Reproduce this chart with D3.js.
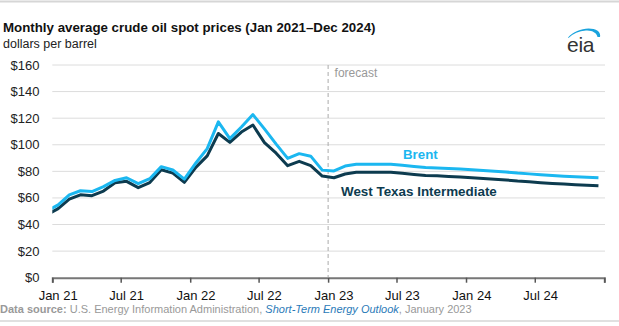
<!DOCTYPE html>
<html>
<head>
<meta charset="utf-8">
<script src="https://cdn.jsdelivr.net/npm/d3@7"></script>
<style>
  html, body { margin: 0; padding: 0; background: #fff; }
  svg { display: block; font-family: "Liberation Sans", Arial, sans-serif; }
</style>
</head>
<body>
<svg id="chart" width="619" height="326"></svg>
<script>
// Months plotted (Dec 2020 point is only used to enter the plot area from the left edge)
const months = [
  "2020-12",
  "2021-01","2021-02","2021-03","2021-04","2021-05","2021-06","2021-07","2021-08","2021-09","2021-10","2021-11","2021-12",
  "2022-01","2022-02","2022-03","2022-04","2022-05","2022-06","2022-07","2022-08","2022-09","2022-10","2022-11","2022-12",
  "2023-01","2023-02","2023-03","2023-04","2023-05","2023-06","2023-07","2023-08","2023-09","2023-10","2023-11","2023-12",
  "2024-01","2024-02","2024-03","2024-04","2024-05","2024-06","2024-07","2024-08","2024-09","2024-10","2024-11","2024-12"
];

// Brent spot price, dollars per barrel
const brent = [
  49.99,
  54.77, 62.28, 65.41, 64.81, 68.53, 73.16, 75.17, 70.75, 74.49, 83.54, 81.05, 74.17,
  86.51, 97.13, 117.25, 104.58, 113.34, 122.71, 111.93, 100.45, 89.76, 93.33, 91.42, 80.92,
  80.3, 84.0, 85.3, 85.3, 85.3, 85.3, 84.5, 83.7, 82.9, 82.6, 82.2, 81.7,
  81.2, 80.7, 80.1, 79.5, 78.7, 78.1, 77.5, 76.9, 76.4, 76.0, 75.6, 75.2
];

// West Texas Intermediate spot price, dollars per barrel
const wti = [
  47.02,
  52.00, 59.04, 62.33, 61.72, 65.17, 71.38, 72.49, 67.73, 71.54, 81.22, 78.65, 71.71,
  83.22, 91.64, 108.50, 101.78, 109.55, 114.84, 101.62, 93.67, 84.26, 87.55, 84.37, 76.44,
  75.2, 78.0, 79.3, 79.3, 79.3, 79.3, 78.5, 77.7, 76.9, 76.6, 76.2, 75.7,
  75.2, 74.7, 74.1, 73.5, 72.7, 72.1, 71.5, 70.9, 70.4, 70.0, 69.6, 69.2
];

const yTicks = [0, 20, 40, 60, 80, 100, 120, 140, 160];
const xTickDates = ["2021-01","2021-07","2022-01","2022-07","2023-01","2023-07","2024-01","2024-07","2025-01"];
const xTickLabels = ["Jan 21","Jul 21","Jan 22","Jul 22","Jan 23","Jul 23","Jan 24","Jul 24",""];
const forecastStart = "2023-01";

const svg = d3.select("#chart");
const W = 619, H = 326;
const plot = { left: 52.3, right: 604.3, top: 65, bottom: 277.7 };

const parseMonth = d3.utcParse("%Y-%m");
const midMonth = s => { const d = parseMonth(s); return new Date(+d + (d3.utcMonth.offset(d, 1) - d) / 2); };

const x = d3.scaleUtc()
  .domain([parseMonth("2021-01"), parseMonth("2025-01")])
  .range([plot.left, plot.right]);
const y = d3.scaleLinear().domain([0, 160]).range([plot.bottom, plot.top]);

// frame rules
svg.append("line").attr("x1", 0).attr("x2", W).attr("y1", 1.5).attr("y2", 1.5)
  .attr("stroke", "#d6d6d6").attr("stroke-width", 2);
svg.append("line").attr("x1", 0).attr("x2", W).attr("y1", 321).attr("y2", 321)
  .attr("stroke", "#d6d6d6").attr("stroke-width", 1.5);

// title block
svg.append("text").attr("x", 3).attr("y", 32)
  .attr("font-size", 13.3).attr("font-weight", "bold").attr("fill", "#111")
  .text("Monthly average crude oil spot prices (Jan 2021\u2013Dec 2024)");
svg.append("text").attr("x", 3).attr("y", 47.5)
  .attr("font-size", 12.5).attr("fill", "#222")
  .text("dollars per barrel");

// eia mark
const logo = svg.append("g");
logo.append("path")
  .attr("d", "M568,37.5 C575,30 589,25.5 598,31 C600,33 600.5,35 600,37 L597.5,37 C597,33 592,30 586,30.5 C579,31 573,33.5 568.5,38 Z")
  .attr("fill", "#1aa3dd");
logo.append("text").attr("x", 567).attr("y", 52)
  .attr("font-size", 21).attr("fill", "#333").attr("letter-spacing", -0.3)
  .text("eia");

// gridlines and y labels
const grid = svg.append("g");
grid.selectAll("line").data(yTicks.filter(d => d > 0)).join("line")
  .attr("x1", plot.left).attr("x2", 605)
  .attr("y1", d => y(d)).attr("y2", d => y(d))
  .attr("stroke", "#dcdcdc").attr("stroke-width", 1);
svg.append("g").selectAll("text").data(yTicks).join("text")
  .attr("x", 39.5).attr("y", d => y(d)).attr("dy", "0.35em")
  .attr("text-anchor", "end").attr("font-size", 13).attr("fill", "#222")
  .text(d => "$" + d);

// x axis
const xAxis = d3.axisBottom(x)
  .tickValues(xTickDates.map(parseMonth))
  .tickSize(5)
  .tickFormat("");
const gx = svg.append("g").attr("transform", `translate(0,${plot.bottom})`).call(xAxis);
gx.select(".domain").attr("stroke", "#777").attr("stroke-width", 2);
gx.selectAll(".tick line").attr("stroke", "#555").attr("stroke-width", 1.5);
svg.append("g").selectAll("text").data(xTickDates.map((d, i) => [d, xTickLabels[i]]).filter(d => d[1]))
  .join("text")
  .attr("x", d => x(midMonth(d[0]))).attr("y", 300)
  .attr("text-anchor", "middle").attr("font-size", 13).attr("fill", "#111")
  .text(d => d[1]);

// forecast divider
const fx = x(parseMonth(forecastStart));
svg.append("line").attr("x1", fx).attr("x2", fx).attr("y1", plot.top).attr("y2", plot.bottom)
  .attr("stroke", "#aaa").attr("stroke-width", 1).attr("stroke-dasharray", "4,3");
svg.append("text").attr("x", fx + 6.5).attr("y", 77)
  .attr("font-size", 12).attr("fill", "#999").text("forecast");

// series
svg.append("defs").append("clipPath").attr("id", "plotClip")
  .append("rect").attr("x", plot.left).attr("y", 0).attr("width", plot.right - plot.left).attr("height", H);

const line = d3.line().x(d => x(midMonth(d[0]))).y(d => y(d[1]));
const lines = svg.append("g").attr("clip-path", "url(#plotClip)");
lines.append("path").datum(months.map((m, i) => [m, wti[i]]))
  .attr("d", line).attr("fill", "none").attr("stroke", "#0d3b4f")
  .attr("stroke-width", 3).attr("stroke-linejoin", "round");
lines.append("path").datum(months.map((m, i) => [m, brent[i]]))
  .attr("d", line).attr("fill", "none").attr("stroke", "#1bb7f0")
  .attr("stroke-width", 3).attr("stroke-linejoin", "round");

// series labels
svg.append("text").attr("x", 403).attr("y", 158.5)
  .attr("font-size", 13.3).attr("font-weight", "bold").attr("fill", "#1bb7f0").text("Brent");
svg.append("text").attr("x", 341).attr("y", 195.5)
  .attr("font-size", 13.4).attr("font-weight", "bold").attr("fill", "#0d3b4f").text("West Texas Intermediate");

// source note
const src = svg.append("text").attr("x", 0).attr("y", 312.5)
  .attr("font-size", 11).attr("fill", "#999");
src.append("tspan").attr("font-weight", "bold").text("Data source:");
src.append("tspan").text(" U.S. Energy Information Administration, ");
src.append("tspan").attr("font-style", "italic").attr("fill", "#2a7ab8").text("Short-Term Energy Outlook");
src.append("tspan").text(", January 2023");
</script>
</body>
</html>
